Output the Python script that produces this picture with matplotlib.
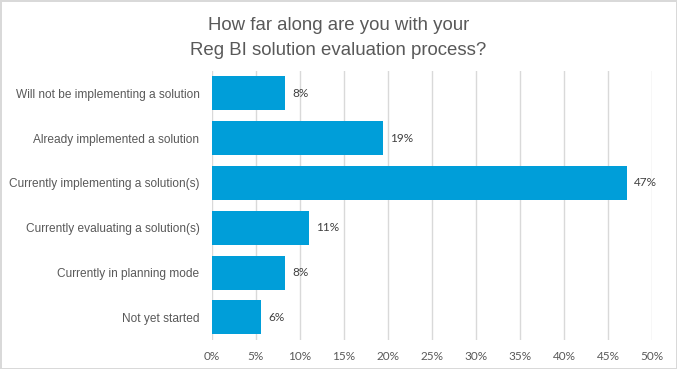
import numpy as np
import matplotlib
matplotlib.use("Agg")
from matplotlib import pyplot as plt

categories = [
    "Will not be implementing a solution",
    "Already implemented a solution",
    "Currently implementing a solution(s)",
    "Currently evaluating a solution(s)",
    "Currently in planning mode",
    "Not yet started",
]
values = [8.3, 19.4, 47.2, 11.0, 8.3, 5.6]
xticks = [0, 5, 10, 15, 20, 25, 30, 35, 40, 45, 50]

bar_color = "#009ED9"
text_color = "#595959"
grid_color = "#D9D9D9"

plt.rcParams['font.family'] = ['Liberation Sans', 'DejaVu Sans']

fig = plt.figure(figsize=(6.77, 3.69), dpi=100, facecolor="white",
                 edgecolor=grid_color, linewidth=2)
ax = fig.add_axes([0.313, 0.079, 0.65, 0.729])

y = np.arange(len(categories))
ax.barh(y, values, height=0.76, color=bar_color, zorder=3)
for yi, v in zip(y, values):
    ax.text(v + 0.8, yi, f"{round(v)}%", va="center", ha="left",
            fontsize=8.5, color="#404040", family="Lato")

ax.set_ylim(len(categories) - 0.5, -0.5)
ax.set_yticks(y)
ax.set_yticklabels(categories, fontsize=8.6, color=text_color)
ax.set_xlim(0, 50)
ax.set_xticks(xticks)
ax.set_xticklabels([f"{t}%" for t in xticks], fontsize=8.5, color=text_color,
                   family="Lato")
ax.tick_params(length=0, pad=9)
ax.tick_params(axis="x", pad=8)
ax.grid(axis="x", color=grid_color, linewidth=1, zorder=0)
for s in ax.spines.values():
    s.set_visible(False)

fig.text(0.5, 0.954, "How far along are you with your\nReg BI solution evaluation process?",
         ha="center", va="top", fontsize=13.4, color=text_color, linespacing=1.65)

fig.savefig("out.png", dpi=100, facecolor=fig.get_facecolor(),
            edgecolor=fig.get_edgecolor())
